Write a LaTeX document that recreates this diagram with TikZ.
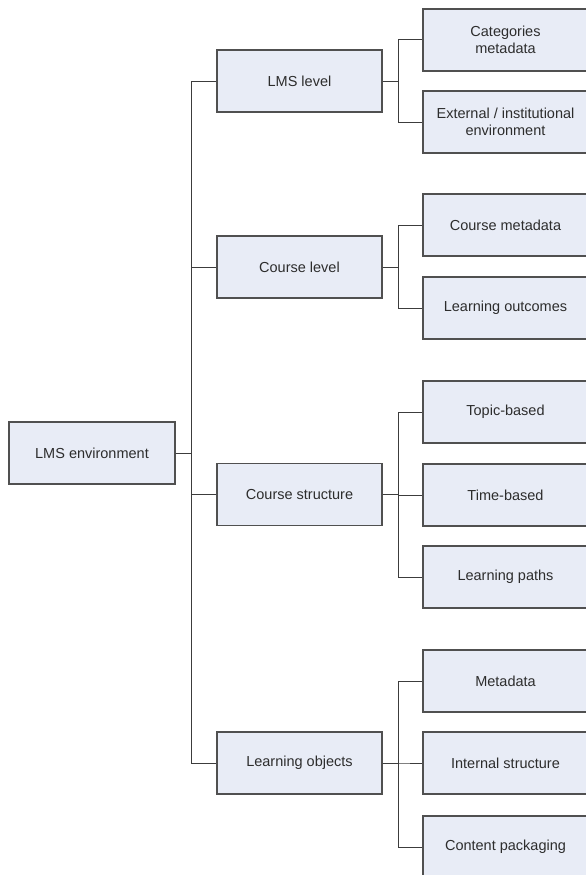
\documentclass[tikz,border=0pt]{standalone}
\usepackage{fontspec}
\setmainfont{Liberation Sans}
\usepackage{tikz}
\usetikzlibrary{calc,positioning}
\usepackage{xcolor}
\definecolor{boxColor}{RGB}{232,236,246}
\definecolor{edgeColor}{RGB}{80,80,80}
\definecolor{lineColor}{RGB}{60,60,60}
\definecolor{textColor}{RGB}{45,45,45}
\newcommand{\treefont}{\fontsize{14.5}{17.5}\selectfont}

\begin{document}
\begin{tikzpicture}[
        x=1pt, y=-1pt,
        item/.style={draw=edgeColor, line width=1.2pt, fill=boxColor, minimum width=165pt, minimum height=62pt, inner sep=0pt, align=center, text=textColor, font=\treefont},
        conn/.style={lineColor, line width=1pt}
      ]
      \path[use as bounding box, clip] (0,0) rectangle (586,875);

      % root and second level
      \node[item, minimum width=166pt] (root) at (92,453) {LMS environment};
      \node[item] (lms) at (299.5,81) {LMS level};
      \node[item] (course) at (299.5,267) {Course level};
      \node[item] (struct) at (299.5,494.5) {Course structure};
      \node[item] (lo) at (299.5,763) {Learning objects};

      % leaves
      \node[item] (cat) at (505.5,40) {Categories\\metadata};
      \node[item] (ext) at (505.5,122) {External / institutional\\environment};
      \node[item] (cmeta) at (505.5,225) {Course metadata};
      \node[item] (outc) at (505.5,308) {Learning outcomes};
      \node[item] (topic) at (505.5,412) {Topic-based};
      \node[item] (time) at (505.5,495) {Time-based};
      \node[item] (paths) at (505.5,577) {Learning paths};
      \node[item] (meta) at (505.5,681) {Metadata};
      \node[item] (inner) at (505.5,763) {Internal structure};
      \node[item] (pack) at (505.5,847) {Content packaging};

      % elbow connectors
      \coordinate (trunk) at ($(root.east)+(16,0)$);
      \foreach \n in {lms,course,struct,lo}
        \draw[conn] (root.east) -- (trunk) |- (\n.west);

      \coordinate (busA) at ($(lms.east)+(16,0)$);
      \foreach \n in {cat,ext}
        \draw[conn] (lms.east) -- (busA) |- (\n.west);

      \coordinate (busB) at ($(course.east)+(16,0)$);
      \foreach \n in {cmeta,outc}
        \draw[conn] (course.east) -- (busB) |- (\n.west);

      \coordinate (busC) at ($(struct.east)+(16,0)$);
      \foreach \n in {topic,time,paths}
        \draw[conn] (struct.east) -- (busC) |- (\n.west);

      \coordinate (busD) at ($(lo.east)+(16,0)$);
      \foreach \n in {meta,inner,pack}
        \draw[conn] (lo.east) -- (busD) |- (\n.west);
    \end{tikzpicture}
\end{document}
